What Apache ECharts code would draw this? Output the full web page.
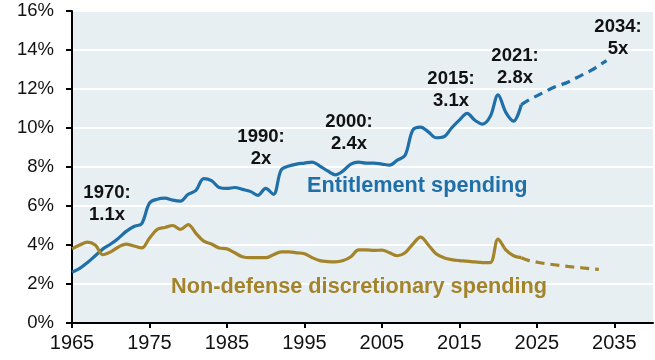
<!DOCTYPE html>
<html>
<head>
<meta charset="utf-8">
<script src="https://cdn.jsdelivr.net/npm/echarts@6/dist/echarts.min.js"></script>
<style>
  html, body { margin: 0; padding: 0; background: #ffffff; }
  #chart { width: 655px; height: 360px; }
</style>
</head>
<body>
<div id="chart"></div>
<script>
// Federal spending as a share of GDP, historical and projected
const startYear = 1965;
const histYears = [];
for (let y = 1965; y <= 2023; y++) histYears.push(y);

const entitlementHist = [
  2.6, 2.8, 3.1, 3.45, 3.8, 4.05, 4.35, 4.7, 4.95, 5.1,
  6.15, 6.35, 6.4, 6.3, 6.25, 6.6, 6.8, 7.4, 7.3, 6.95,
  6.9, 6.95, 6.85, 6.75, 6.55, 6.9, 6.6, 7.85, 8.05, 8.15,
  8.2, 8.25, 8.05, 7.8, 7.6, 7.8, 8.15, 8.25, 8.2, 8.2,
  8.15, 8.1, 8.35, 8.6, 9.9, 10.05, 9.8, 9.5, 9.55, 10.0,
  10.4, 10.75, 10.4, 10.2, 10.6, 11.7, 10.8, 10.35, 11.2
];

const nonDefenseHist = [
  3.8, 4.0, 4.15, 4.0, 3.5, 3.65, 3.9, 4.05, 3.95, 3.85,
  4.35, 4.8, 4.9, 5.0, 4.8, 5.05, 4.6, 4.2, 4.05, 3.85,
  3.8, 3.6, 3.4, 3.35, 3.35, 3.35, 3.5, 3.65, 3.65, 3.6,
  3.55, 3.35, 3.2, 3.15, 3.13, 3.2, 3.4, 3.75, 3.75, 3.72,
  3.74, 3.6, 3.45, 3.6, 4.05, 4.4, 4.0, 3.55, 3.35, 3.25,
  3.2, 3.17, 3.13, 3.1, 3.1, 4.3, 3.75, 3.45, 3.35
];

const entitlementProjYears = [2023, 2024, 2025, 2026, 2027, 2028, 2029, 2030, 2031, 2032, 2033, 2034];
const entitlementProj = [11.2, 11.45, 11.65, 11.85, 12.05, 12.2, 12.35, 12.55, 12.75, 12.95, 13.2, 13.45];

const nonDefenseProjYears = [2023, 2024, 2025, 2026, 2027, 2028, 2029, 2030, 2031, 2032, 2033];
const nonDefenseProj = [3.35, 3.2, 3.12, 3.05, 3.0, 2.95, 2.9, 2.86, 2.82, 2.78, 2.75];

const yTicks = [0, 2, 4, 6, 8, 10, 12, 14, 16];

// Multiplier call-outs: [text, x pixel centre, top pixel]
const callouts = [
  ['1970:\n1.1x', 107, 182],
  ['1990:\n2x', 261, 126],
  ['2000:\n2.4x', 349, 111],
  ['2015:\n3.1x', 451, 68],
  ['2021:\n2.8x', 515, 45],
  ['2034:\n5x', 618, 16]
];

const blue = '#1f6fa8';
const gold = '#a4842a';

const pairs = (xs, ys) => xs.map((x, i) => [x - startYear, ys[i]]);

const chart = echarts.init(document.getElementById('chart'), null, { renderer: 'canvas' });

const lineBase = { type: 'line', showSymbol: false, symbol: 'none', smooth: 0.35, animation: false, z: 3 };

chart.setOption({
  backgroundColor: '#ffffff',
  animation: false,
  grid: {
    left: 72, right: 2, top: 11, bottom: 37,
    show: true, backgroundColor: '#e7eff3', borderWidth: 0
  },
  xAxis: {
    type: 'value',
    min: 0, max: 75, interval: 10,
    axisLine: { show: true, onZero: false, lineStyle: { color: '#000', width: 2 } },
    axisTick: { show: true, length: 5, lineStyle: { color: '#000', width: 2 } },
    axisLabel: {
      showMaxLabel: false,
      color: '#111', fontFamily: 'Liberation Sans, Arial, sans-serif', fontSize: 20, margin: 10,
      formatter: v => String(v + startYear)
    },
    splitLine: { show: false }
  },
  yAxis: {
    type: 'value',
    min: yTicks[0], max: yTicks[yTicks.length - 1], interval: 2,
    axisLine: { show: true, lineStyle: { color: '#000', width: 2 } },
    axisTick: { show: true, inside: false, length: 6, lineStyle: { color: '#000', width: 2 } },
    axisLabel: {
      color: '#111', fontFamily: 'Liberation Sans, Arial, sans-serif', fontSize: 18.5, margin: 18,
      formatter: '{value}%'
    },
    splitLine: { show: true, lineStyle: { color: '#ffffff', width: 2 } }
  },
  series: [
    Object.assign({}, lineBase, {
      name: 'Entitlement spending',
      data: pairs(histYears, entitlementHist),
      lineStyle: { color: blue, width: 3.2 }
    }),
    Object.assign({}, lineBase, {
      name: 'Entitlement spending (projected)',
      data: pairs(entitlementProjYears, entitlementProj),
      lineStyle: { color: blue, width: 3.2, type: [9, 6] }
    }),
    Object.assign({}, lineBase, {
      name: 'Non-defense discretionary spending',
      data: pairs(histYears, nonDefenseHist),
      lineStyle: { color: gold, width: 3.2 }
    }),
    Object.assign({}, lineBase, {
      name: 'Non-defense discretionary spending (projected)',
      data: pairs(nonDefenseProjYears, nonDefenseProj),
      lineStyle: { color: gold, width: 3.2, type: [9, 6] }
    })
  ],
  graphic: [
    {
      type: 'text', left: 307, top: 175, z: 10,
      style: { text: 'Entitlement spending', fill: blue, font: 'bold 21.7px "Liberation Sans", Arial, sans-serif' }
    },
    {
      type: 'text', left: 171, top: 276, z: 10,
      style: { text: 'Non-defense discretionary spending', fill: gold, font: 'bold 21.7px "Liberation Sans", Arial, sans-serif' }
    }
  ].concat(callouts.map(c => ({
    type: 'text', x: c[1], y: c[2], z: 10,
    style: {
      text: c[0], fill: '#111', align: 'center', verticalAlign: 'top',
      font: 'bold 18.5px "Liberation Sans", Arial, sans-serif', lineHeight: 22
    }
  })))
});
</script>
</body>
</html>
